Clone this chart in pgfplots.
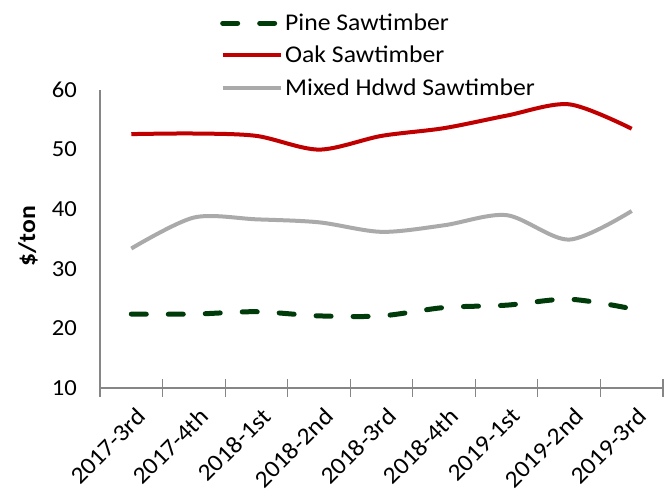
\documentclass[border=0pt]{standalone}
\usepackage{fontspec}
\setmainfont{Carlito}[FakeStretch=1.07]
\usepackage{pgfplots}
\pgfplotsset{compat=1.18}
\definecolor{pinec}{RGB}{0,60,10}
\definecolor{oakc}{RGB}{192,0,0}
\definecolor{mixc}{RGB}{170,170,170}
\definecolor{axc}{RGB}{134,134,134}
\newcommand{\fs}{\fontsize{23bp}{27bp}\selectfont}
\newcommand{\fx}{\fontsize{24bp}{28bp}\selectfont}
\newcommand{\fl}{\fontsize{24bp}{28bp}\selectfont}
\begin{document}
\begin{tikzpicture}
\path[use as bounding box] (0,0) rectangle (669bp,496bp);
\begin{axis}[
  at={(100bp,108bp)}, anchor=south west,
  scale only axis, width=563bp, height=298bp,
  xmin=-0.5, xmax=8.5, ymin=10, ymax=60,
  axis x line*=bottom, axis y line*=left,
  axis line style={draw=axc, line width=1.2bp},
  xtick={0,...,8},
  xticklabels={2017-3rd,2017-4th,2018-1st,2018-2nd,2018-3rd,2018-4th,2019-1st,2019-2nd,2019-3rd},
  minor xtick={-0.5,0.5,...,8.5},
  xtick style={draw=none},
  minor x tick style={draw=axc, line width=1.2bp},
  minor tick length=17bp,
  tick align=center,
  ytick={10,20,...,60},
  ytick style={draw=none},
  major tick length=0pt,
  /pgf/number format/assume math mode=true,
  tick label style={font=\fs, text=black},
  yticklabel style={anchor=east, inner sep=0pt},
  yticklabel shift=23bp,
  xticklabel style={font=\fx, rotate=45, anchor=north east, inner sep=0pt, yshift=-16bp, xshift=-10bp},
  ylabel={\textbf{\$/ton}},
  ylabel style={font=\fl, at={(axis description cs:-0.128,0.51)}, anchor=center},
  legend cell align=left,
  legend style={draw=none, fill=none, font=\fl, at={(axis description cs:0.2131,1.262)}, anchor=north west, inner sep=0pt, row sep=10bp, nodes={inner sep=2bp}},
  legend image code/.code={\draw[#1] (0bp,0bp) -- (58bp,0bp);},
]
\addplot[pinec, line width=5bp, smooth, dash pattern=on 15bp off 22bp, line cap=round] coordinates {
(0,22.4) (1,22.4) (2,22.8) (3,22.1) (4,22.1) (5,23.5) (6,23.9) (7,24.9) (8,23.3)};
\addlegendentry{Pine Sawtimber}
\addplot[oakc, line width=4bp, smooth] coordinates {
(0,52.6) (1,52.7) (2,52.3) (3,50.0) (4,52.3) (5,53.6) (6,55.7) (7,57.6) (8,53.5)};
\addlegendentry{Oak Sawtimber}
\addplot[mixc, line width=4bp, smooth] coordinates {
(0,33.4) (1,38.6) (2,38.3) (3,37.8) (4,36.2) (5,37.3) (6,39.0) (7,34.9) (8,39.7)};
\addlegendentry{Mixed Hdwd Sawtimber}
\end{axis}
\end{tikzpicture}
\end{document}
